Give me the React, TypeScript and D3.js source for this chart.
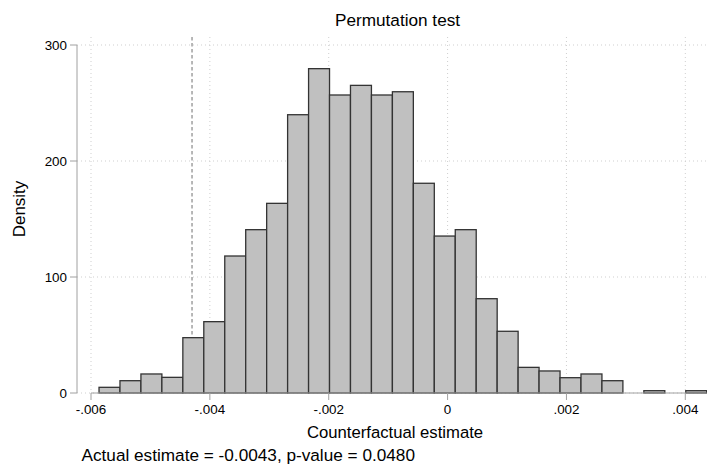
import React from "react";
import * as d3 from "d3";

// Histogram of permuted (counterfactual) estimates, density scale
const binStart = -0.005865;
const binWidth = 0.0003526;
const densities = [
  4.9, 10.6, 16.4, 13.5, 47.7, 61.5, 118.1, 140.8, 163.5, 239.9,
  279.6, 256.9, 265.2, 256.9, 259.7, 180.8, 135.3, 140.8, 81.3, 53.2,
  22.1, 19.0, 13.2, 16.4, 10.6, 0, 2.0, 0, 2.0,
];
const xTicks = [-0.006, -0.004, -0.002, 0, 0.002, 0.004];
const xTickLabels = ["-.006", "-.004", "-.002", "0", ".002", ".004"];
const yTicks = [0, 100, 200, 300];
const actualEstimate = -0.0043;
const pValue = 0.048;

const title = "Permutation test";
const xTitle = "Counterfactual estimate";
const yTitle = "Density";

const W = 707;
const H = 470;
const FONT = "'Liberation Sans', Arial, Helvetica, sans-serif";

export default function App() {
  const x = d3.scaleLinear().domain([-0.006, 0.004]).range([91, 685.3]);
  const y = d3.scaleLinear().domain([0, 300]).range([393, 45]);

  const bins = densities.map((d, i) => ({
    x0: binStart + i * binWidth,
    x1: binStart + (i + 1) * binWidth,
    d,
  }));
  const dataMax = binStart + densities.length * binWidth;
  const plotTop = 37;
  const axisColor = "#a0a0a0";
  const gridColor = "#cfcfcf";

  return (
    <svg
      width={W}
      height={H}
      viewBox={`0 0 ${W} ${H}`}
      style={{ position: "absolute", left: 0, top: 0, background: "#fff" }}
      fontFamily={FONT}
    >
      <rect x={0} y={0} width={W} height={H} fill="#fff" />

      {/* horizontal grid */}
      {yTicks.map((t) => (
        <line
          key={`hg${t}`}
          x1={77}
          x2={W}
          y1={y(t)}
          y2={y(t)}
          stroke={gridColor}
          strokeWidth={1}
          strokeDasharray="1,3"
        />
      ))}
      {/* vertical grid */}
      {xTicks.map((t) => (
        <line
          key={`vg${t}`}
          x1={x(t)}
          x2={x(t)}
          y1={plotTop}
          y2={y(0)}
          stroke={gridColor}
          strokeWidth={1}
          strokeDasharray="1,3"
        />
      ))}

      {/* reference line at the actual estimate */}
      <line
        x1={x(actualEstimate)}
        x2={x(actualEstimate)}
        y1={plotTop}
        y2={y(0)}
        stroke="#707070"
        strokeWidth={1}
        strokeDasharray="3.5,2.5"
      />

      {/* bars */}
      {bins
        .filter((b) => b.d > 0)
        .map((b, i) => (
          <rect
            key={`b${i}`}
            x={x(b.x0)}
            y={y(b.d)}
            width={x(b.x1) - x(b.x0)}
            height={y(0) - y(b.d)}
            fill="#c0c0c0"
            stroke="#333"
            strokeWidth={1.3}
          />
        ))}

      {/* axes */}
      <line x1={77} x2={77} y1={y(300)} y2={y(0)} stroke={axisColor} strokeWidth={1} />
      <line x1={x(-0.006)} x2={x(dataMax)} y1={y(0)} y2={y(0)} stroke={axisColor} strokeWidth={1} />

      {yTicks.map((t) => (
        <g key={`yt${t}`}>
          <line x1={70} x2={77} y1={y(t)} y2={y(t)} stroke={axisColor} strokeWidth={1} />
          <text x={67} y={y(t) + 4.8} textAnchor="end" fontSize={13.4} fill="#000">
            {t}
          </text>
        </g>
      ))}
      {xTicks.map((t, i) => (
        <g key={`xt${t}`}>
          <line x1={x(t)} x2={x(t)} y1={y(0)} y2={y(0) + 7} stroke={axisColor} strokeWidth={1} />
          <text x={x(t)} y={414} textAnchor="middle" fontSize={13.4} fill="#000">
            {xTickLabels[i]}
          </text>
        </g>
      ))}

      {/* titles */}
      <text x={397.5} y={26} textAnchor="middle" fontSize={17.2} fill="#000">
        {title}
      </text>
      <text x={395} y={438} textAnchor="middle" fontSize={16.7} fill="#000">
        {xTitle}
      </text>
      <text
        transform={`translate(25,209) rotate(-90)`}
        textAnchor="middle"
        fontSize={17}
        fill="#000"
      >
        {yTitle}
      </text>
      <text x={81.5} y={461} fontSize={17.2} fill="#000">
        {`Actual estimate = ${actualEstimate.toFixed(4)}, p-value = ${pValue.toFixed(4)}`}
      </text>
    </svg>
  );
}
